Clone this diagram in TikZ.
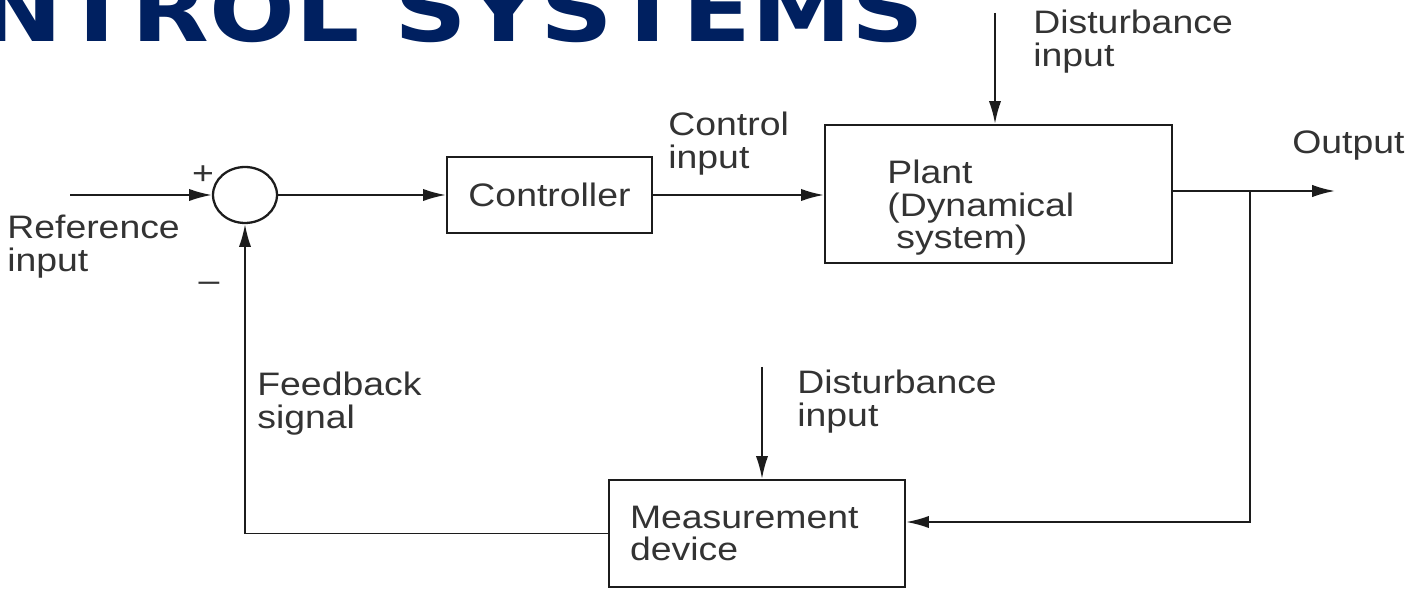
\documentclass[tikz,border=0pt]{standalone}
\usepackage{fontspec}
\setmainfont{Liberation Sans}[FakeStretch=1.15]
\newfontfamily\titlefont{DejaVu Sans}[FakeStretch=1.15]
\usepackage{tikz}
\usetikzlibrary{arrows.meta, shapes.geometric, calc, positioning}
\definecolor{Ink}     {HTML}{1C1C1C}
\definecolor{TextGrey}{HTML}{333333}
\definecolor{Navy}    {HTML}{002060}

\begin{document}
\begin{tikzpicture}[
  x=0.02cm, y=-0.02cm,
  font=\fontsize{18.5pt}{18.5pt}\selectfont,
  block/.style={draw=Ink, line width=1.3pt, inner sep=0pt, text=TextGrey},
  lbl/.style={text=TextGrey, align=left, inner sep=0pt, anchor=north west},
  sign/.style={text=TextGrey, inner sep=0pt},
  ar/.style={-{Latex[length=13pt, width=7pt]}, line width=1.1pt, draw=Ink}
]
  \useasboundingbox (0,0) rectangle (1409,590);

  % slide title, cut off at the top edge
  \begin{scope}
    \clip (0,0) rectangle (1409,590);
    \node[font=\titlefont\fontsize{50pt}{50pt}\selectfont\bfseries, text=Navy,
          anchor=base east, inner sep=0pt] (title) at (925,42) {CONTROL SYSTEMS};
  \end{scope}

  % blocks
  \node[block, ellipse, minimum width=1.28cm, minimum height=1.12cm] (sum) at (245,195) {};
  \node[block, minimum width=4.1cm, minimum height=1.52cm] (ctrl) at (549.5,195) {Controller};
  \node[block, minimum width=6.94cm, minimum height=2.76cm] (plant) at (998.5,194) {};
  \node[lbl] (plantlbl) at (887,160) {Plant\\(Dynamical\\\hspace*{0.28em}system)};
  \node[block, minimum width=5.92cm, minimum height=2.14cm, text width=5.08cm,
        align=left, inner xsep=0.42cm] (meas) at (757,533.5) {Measurement\\device};

  % labels
  \node[lbl] (reflbl)    at (7,215)    {Reference\\input};
  \node[lbl] (ctrlinlbl) at (668,112)  {Control\\input};
  \node[lbl] (dist1lbl)  at (1033,10)  {Disturbance\\input};
  \node[lbl] (dist2lbl)  at (797,370)  {Disturbance\\input};
  \node[lbl] (fblbl)     at (257,372)  {Feedback\\signal};
  \node[lbl] (outlbl)    at (1292,130) {Output};
  \node[sign] (plus)  at (203,175) {+};
  \node[sign] (minus) at (209,287) {–};

  % free ends
  \coordinate (refstart) at (70,195);
  \coordinate (dist1)    at (995,13);
  \coordinate (dist2)    at (762,367);
  \coordinate (branch)   at (1250,191);
  \coordinate (outend)   at (1335,191);

  % forward path
  \draw[ar] (refstart) -- (sum.west);
  \draw[ar] (sum.east) -- (ctrl.west);
  \draw[ar] (ctrl.east) -- (ctrl.east -| plant.west);
  \draw[ar] (plant.east |- outend) -- (outend);

  % feedback path
  \draw[ar] (branch) |- ([yshift=0.23cm]meas.east);
  \draw[ar] (meas.west) -| (sum.south);

  % disturbances
  \draw[ar] (dist1) -- (dist1 |- plant.north);
  \draw[ar] (dist2) -- (dist2 |- meas.north);
\end{tikzpicture}
\end{document}
